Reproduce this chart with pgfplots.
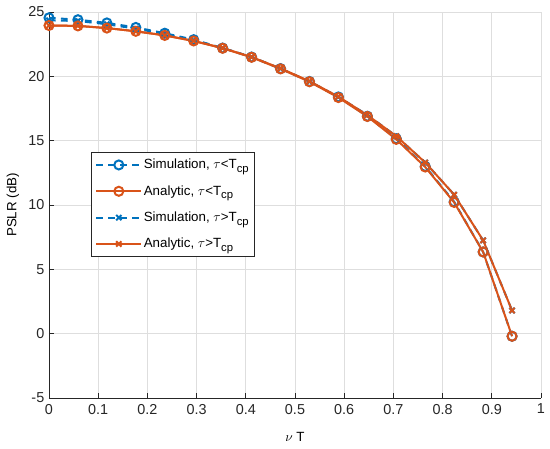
\documentclass[border=0pt]{standalone}
\usepackage{fontspec}
\setmainfont{Liberation Sans}
\usepackage{pgfplots}
\pgfplotsset{compat=1.18}
\definecolor{mblue}{rgb}{0,0.447,0.741}
\definecolor{morange}{rgb}{0.85,0.325,0.098}
\definecolor{mgrid}{rgb}{0.87,0.87,0.87}
\definecolor{maxis}{rgb}{0.15,0.15,0.15}
\newcommand{\cp}{\raisebox{-0.55ex}{\fontsize{8.5}{9}\selectfont cp}}
\begin{document}
\begin{tikzpicture}
\begin{axis}[
  scale only axis,
  width=369pt, height=289.5pt,
  xmin=0, xmax=1, ymin=-5, ymax=25,
  xtick={0,0.1,...,1.0},
  ytick={-5,0,5,10,15,20,25},
  xticklabels={0,0.1,0.2,0.3,0.4,0.5,0.6,0.7,0.8,0.9,1},
  axis x line*=bottom, axis y line*=left,
  axis line style={maxis, line width=0.5pt, -},
  tick style={maxis, line width=0.5pt},
  tick align=inside,
  major tick length=4pt,
  grid=major,
  grid style={mgrid, line width=0.5pt},
  /pgf/number format/assume math mode=true,
  tick label style={font=\fontsize{10.8}{12}\selectfont, text=maxis},
  xticklabel style={yshift=-1pt},
  label style={font=\fontsize{11}{12}\selectfont, text=maxis},
  xlabel={$\nu$ T},
  ylabel={PSLR (dB)},
  every axis x label/.style={at={(axis description cs:0.5,-0.101)}, anchor=center},
  every axis y label/.style={at={(axis description cs:-0.0732,0.5)}, anchor=center, rotate=90},
  legend style={
    at={(rel axis cs:0.085,0.637)}, anchor=north west,
    draw=maxis, line width=0.5pt, fill=white,
    font=\fontsize{10}{11}\selectfont,
    row sep=9pt, inner xsep=3pt, inner ysep=4pt,
    nodes={inner sep=1pt},
  },
  legend cell align=left,
  legend image code/.code={%
    \draw[mark repeat=2,mark phase=2] plot coordinates {(0pt,0pt) (17pt,0pt) (34pt,0pt)};},
]
\addplot[mblue, line width=1.5pt, dash pattern=on 5pt off 4pt, mark=o, mark size=3.4pt, mark options={solid}] coordinates {
(0,24.55) (0.0588,24.4) (0.1176,24.15) (0.1765,23.8) (0.2353,23.35) (0.2941,22.85) (0.3529,22.2) (0.4118,21.5) (0.4706,20.6) (0.5294,19.6) (0.5882,18.4) (0.6471,16.9) (0.7059,15.15) (0.7647,13.0) (0.8235,10.25) (0.8824,6.35) (0.9412,-0.2)};
\addlegendentry{Simulation, $\tau$<T\cp}
\addplot[mblue, line width=1.5pt, dash pattern=on 5pt off 4pt, mark=x, mark size=2.8pt, mark options={solid}, forget plot] coordinates {
(0,24.35) (0.0588,24.3) (0.1176,24.05) (0.1765,23.7) (0.2353,23.3) (0.2941,22.8) (0.3529,22.2) (0.4118,21.5) (0.4706,20.6) (0.5294,19.6) (0.5882,18.4) (0.6471,17.0) (0.7059,15.35) (0.7647,13.3) (0.8235,10.8) (0.8824,7.25) (0.9412,1.8)};
\addplot[morange, line width=1.5pt, mark=o, mark size=3.4pt] coordinates {
(0,23.95) (0.0588,23.92) (0.1176,23.75) (0.1765,23.5) (0.2353,23.18) (0.2941,22.75) (0.3529,22.18) (0.4118,21.48) (0.4706,20.58) (0.5294,19.58) (0.5882,18.35) (0.6471,16.88) (0.7059,15.1) (0.7647,12.95) (0.8235,10.2) (0.8824,6.35) (0.9412,-0.2)};
\addlegendentry{Analytic, $\tau$<T\cp}
\addlegendimage{mblue, line width=1.5pt, dash pattern=on 5pt off 4pt, mark=x, mark size=2.8pt, mark options={solid}}
\addlegendentry{Simulation, $\tau$>T\cp}
\addplot[morange, line width=1.5pt, mark=x, mark size=2.8pt] coordinates {
(0,23.95) (0.0588,23.92) (0.1176,23.75) (0.1765,23.5) (0.2353,23.18) (0.2941,22.75) (0.3529,22.2) (0.4118,21.5) (0.4706,20.62) (0.5294,19.62) (0.5882,18.42) (0.6471,16.98) (0.7059,15.35) (0.7647,13.3) (0.8235,10.8) (0.8824,7.25) (0.9412,1.8)};
\addlegendentry{Analytic, $\tau$>T\cp}
\end{axis}
\pgfresetboundingbox
\path[use as bounding box] ([shift={(-36.75pt,-38.25pt)}]current axis.south west) rectangle ([shift={(6.75pt,9pt)}]current axis.north east);
\end{tikzpicture}
\end{document}
